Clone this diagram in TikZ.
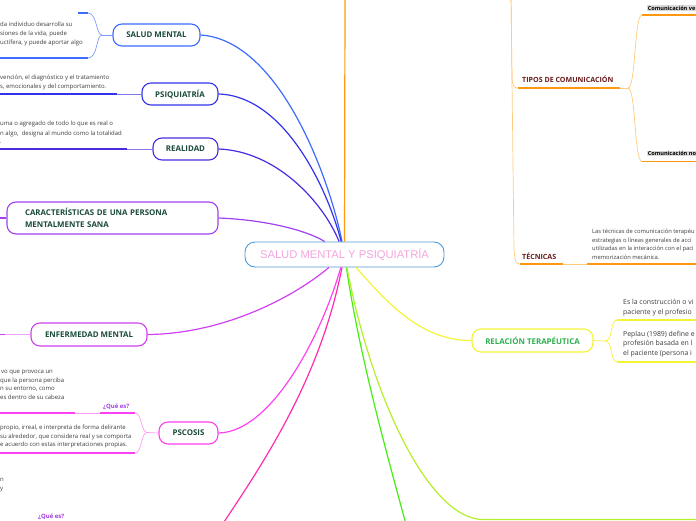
\documentclass[tikz,border=0pt]{standalone}
\usepackage{fontspec}
\setmainfont{Open Sans}
\newfontfamily\titlefont{Liberation Sans}
\newcommand\fsmall{\fontsize{6.0}{8}\selectfont}
\newcommand\fmid{\fontsize{6.9}{9}\selectfont}
\newcommand\ftopic{\fontsize{7.9}{12}\selectfont\bfseries}
\newcommand\flab{\fontsize{7.1}{8}\selectfont\bfseries}
\definecolor{cCenter}{HTML}{4E9AD6}
\definecolor{cCenterText}{HTML}{F6A5DD}
\definecolor{cTopicText}{HTML}{1A4A38}
\definecolor{cBody}{HTML}{3C3C3C}
\definecolor{cSM}{HTML}{3D6BFF}
\definecolor{cSMl}{HTML}{7F9CFF}
\definecolor{cPS}{HTML}{3333EE}
\definecolor{cPSl}{HTML}{7A7AF5}
\definecolor{cRE}{HTML}{4B2BE0}
\definecolor{cREl}{HTML}{8C78EE}
\definecolor{cCA}{HTML}{A040F0}
\definecolor{cEM}{HTML}{D040F0}
\definecolor{cEMl}{HTML}{E9A6F8}
\definecolor{cPC}{HTML}{FF40F0}
\definecolor{cPCl}{HTML}{FF9CF8}
\definecolor{cPK}{HTML}{FF2BB0}
\definecolor{cGR}{HTML}{44EE11}
\definecolor{cYG}{HTML}{B4F02A}
\definecolor{cYE}{HTML}{F4F436}
\definecolor{cRTtext}{HTML}{2DB04E}
\definecolor{cOR}{HTML}{FF9A10}
\definecolor{cORl}{HTML}{FFCB80}
\definecolor{cDark}{HTML}{6A1B1B}
\definecolor{cQue}{HTML}{A23BE0}
\begin{document}
\begin{tikzpicture}[x=1pt,y=-1pt,
  conn/.style={line width=1.2pt},
  thinln/.style={line width=0.7pt},
  thickln/.style={line width=1.7pt},
  topic/.style={draw, line width=1.1pt, rounded corners=9pt, fill=white, inner sep=0pt,
    font=\ftopic, text=cTopicText, minimum height=22pt},
  txt/.style={inner sep=0pt, anchor=base west, font=\fsmall, text=cBody},
  ktxt/.style={inner sep=0pt, anchor=base west, font=\fontsize{5.8}{8}\selectfont, text=cBody},
  mtxt/.style={inner sep=0pt, anchor=base west, font=\fmid, text=cBody},
  lab/.style={inner sep=0pt, anchor=base west, font=\flab, text=cDark},
  que/.style={inner sep=0pt, anchor=base west, font=\fsmall\bfseries, text=cQue},
  cvx/.style={inner sep=0.6pt, anchor=base west, font=\fontsize{5.6}{7}\selectfont\bfseries, text=black, fill=black!15}]
\useasboundingbox (0,0) rectangle (696,520);
\clip (0,0) rectangle (696,520);

% ---------- nodes ----------
\node[draw=cCenter, line width=0.9pt, rounded corners=10pt, fill=white, inner sep=0pt,
  minimum width=199pt, minimum height=25pt, font=\titlefont\fontsize{11.2}{13}\selectfont,
  text=cCenterText] (c) at (344.5,254.5) {SALUD MENTAL Y PSIQUIATRÍA};
\node[topic, draw=cSM, minimum width=87pt] (sm) at (156.5,35) {SALUD MENTAL};
\node[topic, draw=cPS, minimum width=76pt] (ps) at (180,94) {PSIQUIATRÍA};
\node[topic, draw=cRE, minimum width=65pt] (re) at (185.5,149) {REALIDAD};
\node[topic, draw=cCA, minimum width=211pt, minimum height=32pt, text width=175pt,
  align=left, inner xsep=18pt] (ca) at (112.5,218) {CARACTERÍSTICAS DE UNA PERSONA\\MENTALMENTE SANA};
\node[topic, draw=cEM, minimum width=116pt, minimum height=23pt] (em) at (89,334.5) {ENFERMEDAD MENTAL};
\node[topic, draw=cPC, minimum width=59pt] (pc) at (188.5,433) {PSCOSIS};
\node[topic, draw=cYE, text=cRTtext, minimum width=121pt, minimum height=23pt] (rt) at (532.5,340.5) {RELACIÓN TERAPÉUTICA};

\node[lab] (tc) at (522,82.5) {TIPOS DE COMUNICACIÓN};
\node[lab] (tq) at (522,259) {TÉCNICAS};
\node[cvx] (cv) at (647,10) {Comunicación ve};
\node[cvx] (cn) at (647,155.5) {Comunicación no};

% ---------- texts ----------
\node[txt] (s1) at (0,26) {da individuo desarrolla su};
\node[txt] (s2) at (0,35) {siones de la vida, puede};
\node[txt] (s3) at (0,44) {uctífera, y puede aportar algo};
\node[txt] (p1) at (0,79) {vención, el diagnóstico y el tratamiento};
\node[txt] (p2) at (0,88.5) {s, emocionales y del comportamiento.};
\node[txt] (r1) at (0,125.5) {uma o agregado de todo lo que es real o};
\node[txt] (r2) at (0,135) {n algo,\ \ designa al mundo como la totalidad};
\node[txt] (r3) at (0,143.5) {.};
\node[txt] (q1) at (1,373.5) {vo que provoca un};
\node[txt] (q2) at (0,382) {que la persona perciba};
\node[txt] (q3) at (0,390.5) {n su entorno, como};
\node[txt] (q4) at (0,399) {es dentro de su cabeza};
\node[que] (qa) at (103,408) {¿Qué es?};
\node[txt] (q5) at (0,429.5) {propio, irreal, e interpreta de forma delirante};
\node[txt] (q6) at (0,438) {su alrededor, que considera real y se comporta};
\node[txt] (q7) at (0,446.5) {e acuerdo con estas interpretaciones propias.};
\node[txt] (q8) at (0,481.5) {n};
\node[txt] (q9) at (0,490.5) {y};
\node[que] (qb) at (38,518) {¿Qué es?};
\node[ktxt] (k1) at (592,233.5) {Las técnicas de comunicación terapéu};
\node[ktxt] (k2) at (592,242) {estrategias o líneas generales de acci};
\node[ktxt] (k3) at (592,250.5) {utilizadas en la interacción con el paci};
\node[ktxt] (k4) at (592,259) {memorización mecánica.};
\node[mtxt] (e1) at (623,304.5) {Es la construcción o vi};
\node[mtxt] (e2) at (623,314) {paciente y el profesio};
\node[mtxt] (e3) at (623,336) {Peplau (1989) define e};
\node[mtxt] (e4) at (623,345.7) {profesión basada en l};
\node[mtxt] (e5) at (623,355.7) {el paciente (persona i};

% ---------- coordinates ----------
\coordinate (otop) at (345,-5);
\coordinate (pkend) at (220,528);
\coordinate (grend) at (407,528);
\coordinate (ygend) at (483,519.5);
\coordinate (ygend2) at (700,519.5);
\coordinate (smj) at (102,35);
\coordinate (smt) at (88,13);
\coordinate (smtl) at (78,13);
\coordinate (smb) at (88,58);
\coordinate (smbl) at (-3,58);
\coordinate (psj) at (117,94);
\coordinate (psl) at (-3,94);
\coordinate (rej) at (127,149);
\coordinate (rel) at (-3,149);
\coordinate (cal) at (-3,218);
\coordinate (emj) at (5,334.5);
\coordinate (eml) at (-3,334.5);
\coordinate (pcj) at (147,432.5);
\coordinate (pct) at (135,413);
\coordinate (pcta) at (100,413);
\coordinate (pctb) at (75,413);
\coordinate (pctl) at (-3,413);
\coordinate (pcb) at (135,453);
\coordinate (pcbl) at (-3,453);
\coordinate (bt) at (511,-5);
\coordinate (tcu) at (518,88);
\coordinate (tcr) at (620,88);
\coordinate (tcj) at (628,88);
\coordinate (cvu) at (642,15);
\coordinate (cvr) at (700,15);
\coordinate (cnu) at (642,161.5);
\coordinate (cnr) at (700,161.5);
\coordinate (tqu) at (520,264);
\coordinate (tqa) at (563,264);
\coordinate (tqb) at (587,264);
\coordinate (tqr) at (700,264);
\coordinate (rtj) at (605,341);
\coordinate (rtt) at (617,320);
\coordinate (rttr) at (700,320);
\coordinate (rtb) at (617,362);
\coordinate (rtbr) at (700,362);

% ---------- connectors to center ----------
\draw[conn, cOR] (c) -- (otop);
\draw[conn, cSM] (sm.east) .. controls (280,40) and (330,180) .. (c);
\draw[conn, cPS] (ps.east) .. controls (285,96) and (328,190) .. (c);
\draw[conn, cRE] (re.east) .. controls (275,151) and (322,200) .. (c);
\draw[conn, cCA] (ca.east) .. controls (270,220) and (310,232) .. (c);
\draw[conn, cEM] (em.east) .. controls (220,334) and (290,300) .. (c);
\draw[conn, cPC] (pc.east) .. controls (270,432) and (320,340) .. (c);
\draw[conn, cPK] (c) .. controls (320,380) and (262,465) .. (pkend);
\draw[conn, cGR] (c) .. controls (360,360) and (390,465) .. (grend);
\draw[conn, cYG] (c) .. controls (372,400) and (430,519.5) .. (ygend) -- (ygend2);
\draw[conn, cYE] (c) .. controls (385,300) and (420,341) .. (rt.west);

% ---------- left brackets ----------
\draw[thinln, cSMl] (sm.west) -- (smj);
\draw[thinln, cSMl] (smj) .. controls (96,35) and (97,13) .. (smt);
\draw[thinln, cSMl] (smj) .. controls (96,35) and (98,58) .. (smb);
\draw[thickln, cSM] (smt) -- (smtl);
\draw[thickln, cSM] (smb) -- (smbl);
\draw[thinln, cPSl] (ps.west) -- (psj);
\draw[thickln, cPS] (psj) -- (psl);
\draw[thinln, cREl] (re.west) -- (rej);
\draw[thickln, cRE] (rej) -- (rel);
\draw[thickln, cCA] (ca.west) -- (cal);
\draw[thinln, cEMl] (em.west) -- (emj);
\draw[thickln, cEM] (emj) -- (eml);
\draw[thinln, cPCl] (pc.west) -- (pcj);
\draw[thinln, cPCl] (pcj) .. controls (141,432.5) and (142,413) .. (pct);
\draw[thinln, cPCl] (pcj) .. controls (141,432.5) and (142,453) .. (pcb);
\draw[thickln, cPC] (pct) -- (pcta);
\draw[thinln, cPCl] (pcta) -- (pctb);
\draw[thickln, cPC] (pctb) -- (pctl);
\draw[thickln, cPC] (pcb) -- (pcbl);

% ---------- right brackets ----------
\draw[thinln, cORl] (bt) -- (512,76) .. controls (512,86) and (514,88) .. (tcu);
\draw[thinln, cORl] (bt) -- (514,250) .. controls (515,262) and (516,264) .. (tqu);
\draw[thickln, cOR] (tcu) -- (tcr);
\draw[thinln, cORl] (tcr) -- (tcj);
\draw[thinln, cORl] (tcj) .. controls (636,88) and (634,15) .. (cvu);
\draw[thinln, cORl] (tcj) .. controls (636,88) and (634,161.5) .. (cnu);
\draw[thickln, cOR] (cvu) -- (cvr);
\draw[thickln, cOR] (cnu) -- (cnr);
\draw[thickln, cOR] (tqu) -- (tqa);
\draw[thinln, cORl] (tqa) -- (tqb);
\draw[thickln, cOR] (tqb) -- (tqr);
\draw[thinln, cYE] (rt.east) -- (rtj);
\draw[thinln, cYE] (rtj) .. controls (613,341) and (610,320) .. (rtt);
\draw[thinln, cYE] (rtj) .. controls (613,341) and (610,362) .. (rtb);
\draw[thickln, cYE] (rtt) -- (rttr);
\draw[thickln, cYE] (rtb) -- (rtbr);
\end{tikzpicture}
\end{document}
